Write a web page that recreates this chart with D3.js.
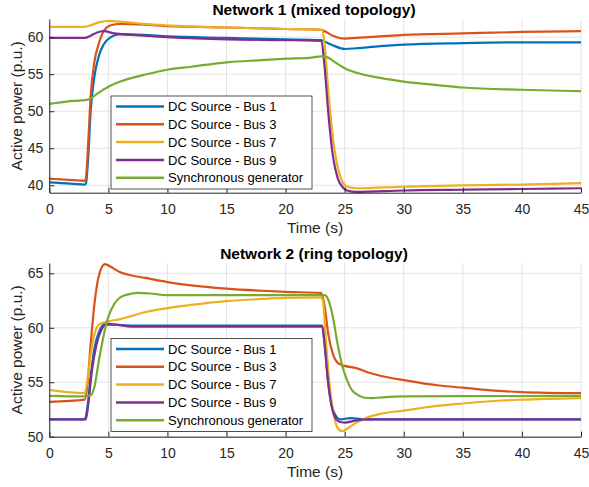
<!DOCTYPE html>
<html>
<head>
<meta charset="utf-8">
<script src="https://cdn.jsdelivr.net/npm/d3@7"></script>
<style>
  body { margin: 0; background: #fff; }
  svg { font-family: "Liberation Sans", Arial, sans-serif; }
</style>
</head>
<body>
<div id="chart"></div>
<script>
// data: [time (s), active power (p.u.)]
const seriesNames = ["DC Source - Bus 1", "DC Source - Bus 3", "DC Source - Bus 7", "DC Source - Bus 9", "Synchronous generator"]
const xTicks = [0, 5, 10, 15, 20, 25, 30, 35, 40, 45]
const net1YTicks = [40, 45, 50, 55, 60]
const net2YTicks = [50, 55, 60, 65]

// Network 1 (mixed topology)
const net1Bus1 = [[0,40.4],[1,40.3],[2,40.2],[3,40.1],[3.1,40.2],[3.3,44],[3.5,50],[3.8,54.5],[4.2,57.5],[4.6,59],[5.2,60],[6,60.4],[8,60.3],[10,60.1],[15,59.9],[20,59.7],[23,59.6],[23.3,59.4],[24,58.9],[25,58.4],[26,58.5],[28,58.8],[30,59.0],[35,59.2],[40,59.3],[45,59.3]]
const net1Bus3 = [[0,40.9],[1,40.8],[2,40.7],[3,40.6],[3.1,41],[3.3,46],[3.5,52],[3.8,56.5],[4.2,59.2],[4.6,60.8],[5.2,61.6],[6,61.8],[8,61.7],[10,61.5],[15,61.3],[20,61.1],[23,61.0],[23.3,60.8],[24,60.2],[25,59.8],[26,59.9],[28,60.1],[30,60.3],[35,60.5],[40,60.7],[45,60.8]]
const net1Bus7 = [[0,61.4],[3,61.4],[3.5,61.6],[4.2,62.0],[5,62.2],[6,62.1],[8,61.8],[10,61.6],[15,61.3],[20,61.1],[23.1,61.0],[23.3,59],[23.6,53],[24,46.5],[24.4,42.5],[24.8,40.5],[25.2,39.8],[26,39.6],[30,39.8],[35,40.0],[40,40.1],[45,40.3]]
const net1Bus9 = [[0,59.9],[3,59.9],[3.5,60.2],[4,60.6],[4.6,60.8],[5.5,60.5],[7,60.3],[10,60.0],[15,59.7],[20,59.6],[23,59.5],[23.3,56],[23.6,50],[24,44],[24.4,41],[24.8,39.8],[25.2,39.3],[26,39.1],[30,39.3],[35,39.4],[40,39.5],[45,39.6]]
const net1Gen = [[0,51.0],[1,51.2],[2,51.4],[3,51.5],[3.5,51.7],[4,52.3],[5,53.3],[6,54.0],[7,54.5],[8,54.9],[10,55.6],[12,56.0],[15,56.6],[18,56.9],[20,57.1],[22,57.2],[23,57.4],[23.5,57.3],[24,56.8],[25,55.8],[26,55.2],[28,54.5],[30,54.0],[33,53.5],[35,53.2],[40,52.9],[45,52.7]]

// Network 2 (ring topology)
const net2Bus1 = [[0,51.6],[3,51.6],[3.2,52.5],[3.5,55.5],[3.8,58],[4.2,59.6],[4.8,60.4],[5.5,60.3],[7,60.2],[23.1,60.2],[23.3,58.5],[23.6,55],[24,52.5],[24.6,51.6],[25.5,51.7],[27,51.6],[45,51.6]]
const net2Bus3 = [[0,53.2],[3,53.4],[3.2,54.5],[3.5,58.5],[3.8,62],[4.2,64.8],[4.7,65.85],[5.2,65.6],[6,65.1],[7,64.8],[8,64.6],[10,64.2],[12,63.9],[15,63.6],[18,63.4],[20,63.3],[23,63.2],[23.3,62],[23.6,59.5],[24,57.6],[24.5,56.7],[25,56.5],[26,56.3],[27,55.9],[28,55.6],[30,55.2],[33,54.7],[35,54.5],[38,54.2],[40,54.1],[45,54.0]]
const net2Bus7 = [[0,54.3],[3,54.0],[3.2,55],[3.5,57.5],[3.8,59.3],[4.2,60.3],[5,60.6],[6,60.8],[7,61.1],[8,61.4],[10,61.8],[12,62.1],[15,62.45],[18,62.65],[20,62.75],[23,62.8],[23.15,62.5],[23.4,59],[23.7,55],[24,52.5],[24.4,50.8],[24.8,50.5],[25.3,50.8],[26,51.3],[27,51.8],[28,52.1],[30,52.4],[33,52.85],[35,53.05],[38,53.3],[40,53.4],[45,53.55]]
const net2Bus9 = [[0,51.6],[3.1,51.6],[3.3,53],[3.6,56],[4,58.5],[4.4,59.8],[4.8,60.3],[5.5,60.3],[7,60.1],[23.1,60.1],[23.3,58.5],[23.6,55],[24,52.3],[24.5,51.4],[25,51.3],[26,51.5],[27,51.6],[45,51.6]]
const net2Gen = [[0,53.75],[3,53.7],[3.5,53.8],[3.8,54.5],[4.2,57],[4.6,59.3],[5,61],[5.5,62.2],[6,62.8],[7,63.15],[7.5,63.2],[8.5,63.15],[10,63.0],[23.3,63.0],[23.6,62.6],[24,61],[24.4,58.5],[24.8,56.5],[25.2,55.2],[25.6,54.3],[26,53.9],[26.6,53.6],[27.3,53.55],[28,53.6],[30,53.7],[45,53.75]]

const colors = ["#0072BD", "#D95319", "#EDB120", "#7E2F8E", "#77AC30"]

let svgWidth = 589
let svgHeight = 487

let svg = d3.select('#chart')
    .append('svg')
    .attr('width', svgWidth)
    .attr('height', svgHeight)

const axisColor = "#262626"

function drawPanel(opts) {
    let left = 49.3, right = 581

    let xScale = d3.scaleLinear().domain([0, 45]).range([left, right])
    let yScale = d3.scaleLinear().domain(opts.yDomain).range([opts.bottom, opts.top])

    let g = svg.append('g')

    // grid
    g.selectAll('.gx').data(xTicks).enter().append('line')
        .attr('x1', d => xScale(d)).attr('x2', d => xScale(d))
        .attr('y1', opts.top).attr('y2', opts.bottom)
        .attr('stroke', '#e3e3e3').attr('stroke-width', 1)
    g.selectAll('.gy').data(opts.yTicks).enter().append('line')
        .attr('x1', left).attr('x2', right)
        .attr('y1', d => yScale(d)).attr('y2', d => yScale(d))
        .attr('stroke', '#e3e3e3').attr('stroke-width', 1)

    // lines
    let valueLine = d3.line()
        .x(d => xScale(d[0]))
        .y(d => yScale(d[1]))
        .curve(d3.curveMonotoneX)

    opts.series.forEach((s, i) => {
        g.append('path')
            .attr('d', valueLine(s))
            .attr('fill', 'none')
            .attr('stroke', colors[i])
            .attr('stroke-width', 2.2)
            .attr('stroke-linejoin', 'round')
    })

    // axes (ticks pointing inward like matlab)
    let xAxis = d3.axisBottom(xScale).tickValues(xTicks).tickSizeInner(-5).tickSizeOuter(0).tickPadding(11)
    let yAxis = d3.axisLeft(yScale).tickValues(opts.yTicks).tickSizeInner(-5).tickSizeOuter(0).tickPadding(6)

    let gx = g.append('g').attr('transform', `translate(0,${opts.bottom})`).call(xAxis)
    let gy = g.append('g').attr('transform', `translate(${left},0)`).call(yAxis)
    ;[gx, gy].forEach(a => {
        a.select('.domain').attr('stroke', axisColor).attr('stroke-width', 1)
        a.selectAll('.tick line').attr('stroke', axisColor)
        a.selectAll('.tick text').attr('fill', axisColor)
            .style('font-size', '14px').style('font-family', '"Liberation Sans", Arial, sans-serif')
    })

    // title & labels
    g.append('text')
        .attr('x', 314).attr('y', opts.top - 4)
        .attr('text-anchor', 'middle')
        .style('font-size', '15.5px').style('font-weight', 'bold')
        .attr('fill', '#000')
        .text(opts.title)
    g.append('text')
        .attr('x', 315).attr('y', opts.bottom + 40.5)
        .attr('text-anchor', 'middle')
        .style('font-size', '15.5px').attr('fill', axisColor)
        .text('Time (s)')
    g.append('text')
        .attr('transform', `translate(21.5,${(opts.top + opts.bottom) / 2}) rotate(-90)`)
        .attr('text-anchor', 'middle')
        .style('font-size', '15.5px').attr('fill', axisColor)
        .text('Active power (p.u.)')

    // legend
    let lg = g.append('g').attr('transform', `translate(111,${opts.legendTop})`)
    lg.append('rect')
        .attr('width', 201).attr('height', 93)
        .attr('fill', '#fff').attr('stroke', axisColor).attr('stroke-width', 0.8)
    seriesNames.forEach((name, i) => {
        let yy = 10.5 + i * 17.8
        lg.append('line')
            .attr('x1', 5).attr('x2', 53).attr('y1', yy).attr('y2', yy)
            .attr('stroke', colors[i]).attr('stroke-width', 2.5)
        lg.append('text')
            .attr('x', 57).attr('y', yy + 4.6)
            .style('font-size', '13px').attr('fill', '#000')
            .text(name)
    })
}

drawPanel({
    title: 'Network 1 (mixed topology)',
    top: 19, bottom: 192.7,
    yDomain: [39, 62.45],
    yTicks: net1YTicks,
    series: [net1Bus1, net1Bus3, net1Bus7, net1Bus9, net1Gen],
    legendTop: 96
})

drawPanel({
    title: 'Network 2 (ring topology)',
    top: 263, bottom: 436.7,
    yDomain: [50, 65.95],
    yTicks: net2YTicks,
    series: [net2Bus1, net2Bus3, net2Bus7, net2Bus9, net2Gen],
    legendTop: 338.5
})
</script>
</body>
</html>
